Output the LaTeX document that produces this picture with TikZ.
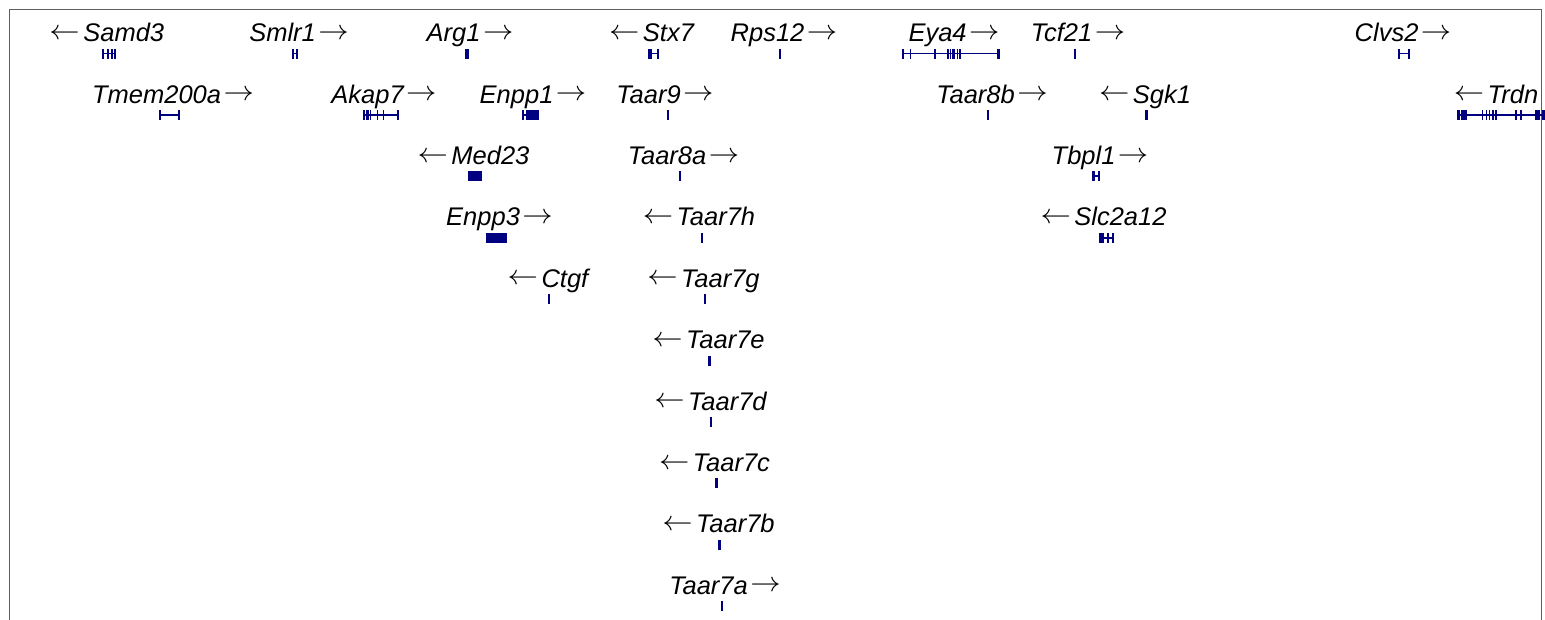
\documentclass[tikz,border=0pt]{standalone}
\usepackage{fontspec}
\setmainfont{Liberation Sans}
\newfontfamily\labfont{Liberation Sans}
\definecolor{navy}{RGB}{0,0,128}
\definecolor{framegray}{RGB}{95,95,95}
\newcommand\arL{\raisebox{2.4pt}{\scalebox{1.22}[1.12]{$\leftarrow$}}\hspace{3.5pt}}
\newcommand\arR{\hspace{2.5pt}\raisebox{2.4pt}{\scalebox{1.22}[1.12]{$\rightarrow$}}}
\newcommand\genemodel[4]{%
  \draw[intr] (#2,#1) -- (#3,#1);
  \foreach \a/\b in {#4} {\fill[navy] (\a,#1-5) rectangle (\b,#1+5);}%
}
\begin{document}
\begin{tikzpicture}[x=1pt,y=-1pt,
  lab/.style={font=\labfont\fontsize{25.5}{30}\selectfont\itshape, anchor=base, inner sep=0pt, text=black},
  intr/.style={draw=navy, line width=1.8pt},
  framebox/.style={draw=framegray, line width=1pt}]
\useasboundingbox (0,0) rectangle (1545,619);
\clip (0,0) rectangle (1545,619);
\draw[framebox] (9.5,9.5) rectangle (1541,640);
% Row 0
\node[lab] (lSamd3) at (106.8,41.7) {\arL Samd3};
\genemodel{53.5}{102}{116}{101.8/104.2,106.8/108.8,110.8/113,114.3/116.2}
\node[lab] (lSmlr1) at (299,41.7) {Smlr1\arR};
\genemodel{53.5}{292}{298}{291.8/293.8,296.2/298.2}
\node[lab] (lArg1) at (470,41.7) {Arg1\arR};
\genemodel{53.5}{465.3}{465.3}{465.3/468.5}
\node[lab] (lStx7) at (651.5,41.7) {\arL Stx7};
\genemodel{53.5}{648}{659}{648/652,656.5/659}
\node[lab] (lRps12) at (784,41.7) {Rps12\arR};
\genemodel{53.5}{778.8}{778.8}{778.8/781.2}
\node[lab] (lEya4) at (954,41.7) {Eya4\arR};
\genemodel{53.5}{902}{1000}{902/904,909.5/911.3,934.3/935.8,947/949,949.5/951,951.5/955,956.5/958,959/960.8,996.5/1000}
\node[lab] (lTcf21) at (1078,41.7) {Tcf21\arR};
\genemodel{53.5}{1073.8}{1073.8}{1073.8/1076.2}
\node[lab] (lClvs2) at (1403,41.7) {Clvs2\arR};
\genemodel{53.5}{1398}{1410}{1398/1399.9,1408.1/1410}
% Row 1
\node[lab] (lTmem200a) at (173,103.1) {Tmem200a\arR};
\genemodel{114.9}{159}{180}{159/160.9,178.1/180}
\node[lab] (lAkap7) at (384,103.1) {Akap7\arR};
\genemodel{114.9}{363}{399}{363/364.5,365.5/366.7,367.3/368.9,370/371.4,377/378.4,383/384.4,397.3/399}
\node[lab] (lEnpp1) at (533,103.1) {Enpp1\arR};
\genemodel{114.9}{522}{539}{522/523.8,526/539}
\node[lab] (lTaar9) at (665,103.1) {Taar9\arR};
\genemodel{114.9}{666.8}{666.8}{666.8/669.2}
\node[lab] (lTaar8b) at (992,103.1) {Taar8b\arR};
\genemodel{114.9}{986.8}{986.8}{986.8/988.8}
\node[lab] (lSgk1) at (1145,103.1) {\arL Sgk1};
\genemodel{114.9}{1145.3}{1145.3}{1145.3/1148.3}
\node[lab] (lTrdn) at (1496,103.1) {\arL Trdn};
\genemodel{114.9}{1457}{1545}{1457/1459.5,1461/1467,1481.5/1483,1485.5/1487,1488.5/1490,1491.5/1493.5,1495/1497,1515/1516.8,1520/1521.8,1535/1540,1542/1545}
% Row 2
\node[lab] (lMed23) at (473.5,164.5) {\arL Med23};
\genemodel{176.3}{468}{468}{468/482}
\node[lab] (lTaar8a) at (683.5,164.5) {Taar8a\arR};
\genemodel{176.3}{678.8}{678.8}{678.8/681.2}
\node[lab] (lTbpl1) at (1100,164.5) {Tbpl1\arR};
\genemodel{176.3}{1092}{1100}{1092/1094.5,1097.5/1100}
% Row 3
\node[lab] (lEnpp3) at (499.5,225.9) {Enpp3\arR};
\genemodel{237.7}{486}{486}{486/507}
\node[lab] (lTaar7h) at (699,225.9) {\arL Taar7h};
\genemodel{237.7}{700.8}{700.8}{700.8/702.8}
\node[lab] (lSlc2a12) at (1103.5,225.9) {\arL Slc2a12};
\genemodel{237.7}{1099}{1114}{1099/1104,1107/1108.7,1112/1114}
% Row 4
\node[lab] (lCtgf) at (548,287.3) {\arL Ctgf};
\genemodel{299.1}{547.8}{547.8}{547.8/550.2}
\node[lab] (lTaar7g) at (703.5,287.3) {\arL Taar7g};
\genemodel{299.1}{703.8}{703.8}{703.8/706.2}
% Rows 5-9
\node[lab] (lTaar7e) at (708.5,348.7) {\arL Taar7e};
\genemodel{360.5}{708.3}{708.3}{708.3/710.7}
\node[lab] (lTaar7d) at (710.5,410.1) {\arL Taar7d};
\genemodel{421.9}{709.8}{709.8}{709.8/712.2}
\node[lab] (lTaar7c) at (714.5,471.5) {\arL Taar7c};
\genemodel{483.3}{714.8}{714.8}{714.8/717.6}
\node[lab] (lTaar7b) at (718.5,532.9) {\arL Taar7b};
\genemodel{544.7}{718.3}{718.3}{718.3/720.7}
\node[lab] (lTaar7a) at (725,594.3) {Taar7a\arR};
\genemodel{606.1}{720.8}{720.8}{720.8/723.2}
\end{tikzpicture}
\end{document}
